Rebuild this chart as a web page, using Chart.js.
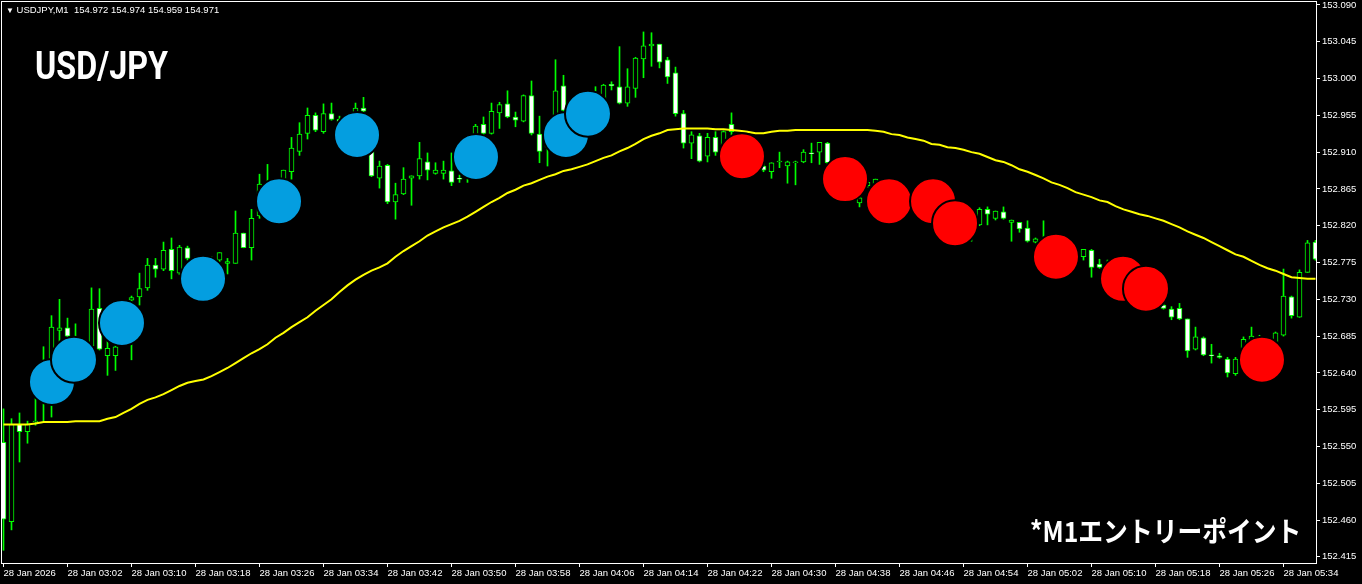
<!DOCTYPE html>
<html>
<head>
<meta charset="utf-8">
<script src="https://cdn.jsdelivr.net/npm/chart.js@4.4.1/dist/chart.umd.min.js"></script>
<style>
html,body{margin:0;padding:0;background:#000;overflow:hidden}
#wrap{position:relative;width:1362px;height:584px;background:#000}
#c{display:block}
#hdr{position:absolute;left:6px;top:4px;color:#fff;font:9.5px "Liberation Sans",sans-serif;white-space:pre;line-height:11px}
#hdr .tri{font-size:8px}
#title{position:absolute;left:35px;top:47px;color:#fff;font:bold 38px Roboto,"Liberation Sans",sans-serif;line-height:1;transform:scaleX(0.85);transform-origin:0 0;white-space:nowrap}
#note{position:absolute;left:1030px;top:516px;color:#fff;font:bold 28px "Noto Sans CJK JP",sans-serif;line-height:1;transform:scaleX(0.885);transform-origin:0 0;white-space:nowrap}
</style>
</head>
<body>
<div id="wrap">
<canvas id="c" width="1362" height="584"></canvas>
<div id="hdr"><span class="tri">▼</span> USDJPY,M1  154.972 154.974 154.959 154.971</div>
<div id="title">USD/JPY</div>
<div id="note">*M1エントリーポイント</div>
</div>
<script>
// ---- data ----
const timeTickLabels = ["28 Jan 2026","28 Jan 03:02","28 Jan 03:10","28 Jan 03:18","28 Jan 03:26","28 Jan 03:34","28 Jan 03:42","28 Jan 03:50","28 Jan 03:58","28 Jan 04:06","28 Jan 04:14","28 Jan 04:22","28 Jan 04:30","28 Jan 04:38","28 Jan 04:46","28 Jan 04:54","28 Jan 05:02","28 Jan 05:10","28 Jan 05:18","28 Jan 05:26","28 Jan 05:34"];
const barsPerTimeTick = 8;
const priceTicks = [153.090,153.045,153.000,152.955,152.910,152.865,152.820,152.775,152.730,152.685,152.640,152.595,152.550,152.505,152.460,152.415];

const opens = [152.555,152.458,152.577,152.568,152.580,152.607,152.637,152.692,152.695,152.680,
152.668,152.673,152.719,152.661,152.661,152.680,152.729,152.733,152.744,152.772,
152.767,152.791,152.762,152.793,152.780,152.766,152.776,152.778,152.774,152.774,
152.811,152.793,152.832,152.864,152.851,152.870,152.886,152.911,152.933,152.955,
152.935,152.957,152.950,152.943,152.952,152.964,152.949,152.878,152.894,152.849,
152.859,152.878,152.881,152.898,152.884,152.884,152.887,152.878,152.886,152.913,
152.944,152.933,152.958,152.969,152.953,152.948,152.979,152.932,152.916,152.949,
152.991,152.961,152.949,152.968,152.974,152.974,152.993,152.990,152.970,152.988,
153.024,153.040,153.042,153.023,153.007,152.957,152.921,152.930,152.905,152.928,
152.919,152.944,152.931,152.913,152.900,152.893,152.886,152.898,152.893,152.897,
152.898,152.909,152.910,152.921,152.897,152.882,152.870,152.848,152.869,152.858,
152.870,152.861,152.854,152.858,152.851,152.845,152.851,152.842,152.837,152.829,
152.824,152.821,152.821,152.840,152.829,152.837,152.824,152.824,152.817,152.800,
152.802,152.793,152.784,152.788,152.780,152.782,152.790,152.773,152.769,152.763,
152.756,152.747,152.751,152.741,152.735,152.723,152.718,152.719,152.706,152.669,
152.683,152.662,152.661,152.657,152.639,152.670,152.674,152.674,152.674,152.674,
152.686,152.733,152.708,152.763,152.800];
const highs = [152.596,152.584,152.591,152.581,152.609,152.672,152.710,152.730,152.707,152.700,
152.679,152.744,152.743,152.680,152.678,152.723,152.734,152.762,152.780,152.780,
152.800,152.805,152.796,152.795,152.782,152.778,152.782,152.787,152.780,152.838,
152.811,152.840,152.883,152.895,152.876,152.888,152.928,152.946,152.964,152.958,
152.969,152.970,152.954,152.952,152.970,152.977,152.952,152.899,152.895,152.872,
152.891,152.881,152.922,152.909,152.897,152.899,152.909,152.882,152.919,152.944,
152.953,152.970,152.971,152.985,152.959,152.980,152.997,152.954,152.943,153.023,
153.004,152.972,152.979,152.981,152.990,152.993,152.996,153.039,153.012,153.026,
153.057,153.056,153.042,153.026,153.014,152.961,152.935,152.933,152.933,152.935,
152.936,152.958,152.933,152.925,152.919,152.900,152.897,152.910,152.899,152.899,
152.913,152.921,152.922,152.922,152.900,152.888,152.876,152.864,152.876,152.877,
152.873,152.870,152.866,152.866,152.864,152.870,152.870,152.858,152.858,152.845,
152.839,152.837,152.842,152.843,152.838,152.843,152.827,152.824,152.826,152.805,
152.826,152.802,152.799,152.796,152.790,152.791,152.791,152.779,152.778,152.772,
152.766,152.760,152.756,152.751,152.747,152.729,152.721,152.725,152.706,152.696,
152.684,152.675,152.664,152.659,152.659,152.684,152.696,152.686,152.683,152.690,
152.767,152.734,152.766,152.802,152.802];
const lows = [152.423,152.448,152.531,152.554,152.576,152.581,152.586,152.678,152.674,152.656,
152.650,152.668,152.668,152.637,152.643,152.677,152.656,152.723,152.741,152.757,
152.765,152.755,152.760,152.778,152.760,152.747,152.760,152.776,152.761,152.774,
152.793,152.778,152.829,152.845,152.845,152.864,152.877,152.906,152.926,152.935,
152.933,152.949,152.937,152.931,152.943,152.957,152.880,152.866,152.847,152.828,
152.858,152.845,152.877,152.876,152.883,152.877,152.869,152.873,152.873,152.900,
152.925,152.932,152.939,152.952,152.941,152.947,152.931,152.897,152.893,152.943,
152.959,152.937,152.943,152.955,152.961,152.968,152.986,152.969,152.966,152.977,
153.001,153.015,153.013,152.994,152.954,152.915,152.902,152.898,152.898,152.906,
152.913,152.925,152.900,152.888,152.886,152.886,152.878,152.891,152.872,152.870,
152.897,152.897,152.895,152.894,152.870,152.861,152.854,152.843,152.867,152.851,
152.851,152.845,152.842,152.839,152.837,152.833,152.829,152.821,152.815,152.809,
152.809,152.801,152.820,152.821,152.827,152.828,152.801,152.812,152.800,152.799,
152.784,152.776,152.772,152.768,152.772,152.778,152.757,152.768,152.754,152.747,
152.739,152.735,152.732,152.727,152.723,152.718,152.705,152.705,152.659,152.668,
152.661,152.652,152.658,152.635,152.637,152.666,152.668,152.662,152.662,152.668,
152.685,152.707,152.708,152.763,152.778];
const closes = [152.461,152.577,152.568,152.577,152.581,152.643,152.696,152.695,152.685,152.668,
152.674,152.718,152.669,152.670,152.672,152.717,152.732,152.743,152.772,152.767,
152.790,152.765,152.794,152.780,152.766,152.776,152.780,152.787,152.776,152.811,
152.793,152.829,152.871,152.854,152.873,152.888,152.915,152.932,152.955,152.937,
152.957,152.950,152.943,152.952,152.964,152.960,152.881,152.893,152.849,152.858,
152.877,152.881,152.902,152.888,152.888,152.888,152.873,152.877,152.913,152.942,
152.933,152.960,152.968,152.953,152.949,152.979,152.933,152.911,152.937,152.985,
152.961,152.949,152.968,152.974,152.980,152.992,152.991,152.970,152.990,153.025,
153.040,153.042,153.020,153.002,152.957,152.921,152.931,152.899,152.928,152.910,
152.935,152.935,152.913,152.900,152.894,152.888,152.897,152.899,152.898,152.898,
152.910,152.908,152.922,152.897,152.882,152.870,152.858,152.854,152.873,152.877,
152.861,152.854,152.858,152.851,152.845,152.851,152.842,152.837,152.829,152.824,
152.821,152.824,152.840,152.834,152.838,152.829,152.827,152.816,152.801,152.804,
152.793,152.784,152.788,152.780,152.782,152.791,152.769,152.769,152.763,152.756,
152.747,152.751,152.741,152.735,152.729,152.719,152.708,152.706,152.667,152.684,
152.662,152.661,152.659,152.640,152.657,152.681,152.685,152.680,152.678,152.689,
152.734,152.710,152.763,152.799,152.779];
const maValues = [152.577,152.577,152.577,152.577,152.578,152.580,152.580,152.580,152.580,152.581,
152.581,152.581,152.581,152.584,152.586,152.591,152.596,152.602,152.607,152.610,
152.614,152.619,152.624,152.628,152.630,152.632,152.636,152.641,152.646,152.652,
152.658,152.664,152.669,152.675,152.683,152.689,152.696,152.702,152.708,152.716,
152.723,152.730,152.739,152.747,152.754,152.760,152.765,152.769,152.774,152.782,
152.789,152.795,152.801,152.808,152.813,152.818,152.822,152.826,152.831,152.837,
152.843,152.849,152.854,152.860,152.864,152.869,152.872,152.876,152.880,152.883,
152.887,152.889,152.892,152.895,152.899,152.903,152.906,152.911,152.915,152.920,
152.926,152.930,152.933,152.937,152.938,152.939,152.939,152.939,152.939,152.938,
152.938,152.937,152.936,152.935,152.933,152.933,152.935,152.936,152.936,152.937,
152.937,152.937,152.937,152.937,152.937,152.937,152.937,152.937,152.937,152.936,
152.935,152.932,152.931,152.928,152.926,152.924,152.920,152.919,152.916,152.915,
152.913,152.910,152.908,152.904,152.900,152.898,152.894,152.889,152.886,152.882,
152.878,152.873,152.870,152.866,152.861,152.858,152.855,152.851,152.849,152.844,
152.840,152.837,152.834,152.832,152.829,152.826,152.822,152.818,152.813,152.809,
152.805,152.800,152.795,152.790,152.785,152.782,152.777,152.772,152.768,152.765,
152.761,152.757,152.756,152.755,152.755];
// entry signals: bar position (fractional bar index) and price
const buyBar = [6.06,8.81,14.81,24.94,34.44,44.19,59.06,70.31,73.06];
const buyPrice = [152.629,152.656,152.701,152.755,152.850,152.931,152.904,152.931,152.957];
const sellBar = [92.31,105.19,110.69,116.19,118.94,131.56,139.94,142.81,157.31];
const sellPrice = [152.905,152.877,152.850,152.850,152.823,152.782,152.755,152.743,152.656];

// ---- build ----
const wickData = highs.map((h, i) => ({x: i, y: [lows[i], h]}));
const bodyData = opens.map((o, i) => ({x: i, y: [o, closes[i]]}));
const bodyFill = opens.map((o, i) => closes[i] >= o ? '#000000' : '#ffffff');
const maData = maValues.map((v, i) => ({x: i, y: v}));
const buyData = buyBar.map((b, i) => ({x: b, y: buyPrice[i]}));
const sellData = sellBar.map((b, i) => ({x: b, y: sellPrice[i]}));

const CANDLE = '#00ff00';
const axisFont = {family: '"Liberation Sans", Arial, sans-serif', size: 9.5};

const framePlugin = {
  id: 'frame',
  afterDatasetsDraw(chart) {
    const {ctx, chartArea: a} = chart;
    ctx.save();
    ctx.strokeStyle = '#ffffff';
    ctx.lineWidth = 1;
    ctx.strokeRect(a.left - 0.5, a.top - 0.5, a.right - a.left + 1, a.bottom - a.top + 1);
    ctx.restore();
  }
};
const bgPlugin = {
  id: 'bg',
  beforeDraw(chart) {
    const {ctx, width, height} = chart;
    ctx.save(); ctx.fillStyle = '#000'; ctx.fillRect(0, 0, width, height); ctx.restore();
  }
};

new Chart(document.getElementById('c'), {
  type: 'bar',
  data: {
    datasets: [
      {type: 'scatter', label: 'buy', data: buyData, pointRadius: 23, pointBackgroundColor: '#049ee0', pointBorderColor: '#000000', pointBorderWidth: 2, showLine: false, order: 0},
      {type: 'scatter', label: 'sell', data: sellData, pointRadius: 23, pointBackgroundColor: '#ff0000', pointBorderColor: '#000000', pointBorderWidth: 2, showLine: false, order: 0},
      {type: 'line', label: 'MA', data: maData, borderColor: '#ffff00', borderWidth: 2, pointRadius: 0, tension: 0, order: 1},
      {type: 'bar', label: 'body', data: bodyData, backgroundColor: bodyFill, borderColor: CANDLE, borderWidth: 1, borderSkipped: false, barThickness: 5, grouped: false, order: 2},
      {type: 'bar', label: 'wick', data: wickData, backgroundColor: CANDLE, borderWidth: 0, barThickness: 1, grouped: false, order: 3}
    ]
  },
  options: {
    responsive: false,
    animation: false,
    events: [],
    devicePixelRatio: 1,
    layout: {padding: {left: 2, top: 2, right: 0, bottom: 0}, autoPadding: false},
    plugins: {legend: {display: false}, tooltip: {enabled: false}, title: {display: false}},
    scales: {
      x: {
        type: 'linear', min: -0.1875, max: 164.0625, offset: false,
        afterBuildTicks: s => { s.ticks = timeTickLabels.map((_, k) => ({value: k * barsPerTimeTick})); },
        afterFit: s => { s.height = 21; s.paddingLeft = 0; s.paddingRight = 0; },
        ticks: {autoSkip: false, maxRotation: 0, minRotation: 0, align: 'start', padding: 1, color: '#ffffff', font: axisFont,
          callback: v => timeTickLabels[Math.round(v / barsPerTimeTick)]},
        grid: {drawOnChartArea: false, drawTicks: true, tickLength: 4, color: '#ffffff', offset: false},
        border: {display: false}
      },
      y: {
        type: 'linear', position: 'right', min: 152.4075, max: 153.0936,
        afterBuildTicks: s => { s.ticks = priceTicks.map(v => ({value: v})); },
        afterFit: s => { s.width = 46; s.paddingTop = 0; s.paddingBottom = 0; },
        ticks: {padding: 2, color: '#ffffff', font: axisFont, callback: v => Number(v).toFixed(3)},
        grid: {drawOnChartArea: false, drawTicks: true, tickLength: 4, color: '#ffffff'},
        border: {display: false}
      }
    }
  },
  plugins: [bgPlugin, framePlugin]
});
</script>
</body>
</html>
